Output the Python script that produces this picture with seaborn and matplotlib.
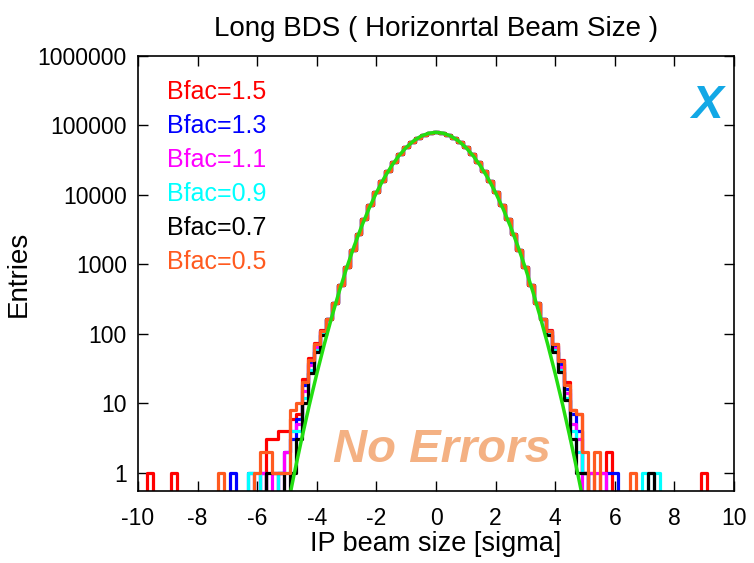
import numpy as np
import pandas as pd
import seaborn as sns
from matplotlib import pyplot as plt

# Histogram bins: 0.2 sigma wide, centred on even tenths
centers = np.round(np.linspace(-10, 10, 101), 1)
edges = list(np.round(np.linspace(-10.1, 10.1, 102), 1))

# Core of the distribution, the same for every Bfac
core_x = np.round(np.linspace(-3.6, 3.6, 37), 1)
core_n = [160, 275, 500, 910, 1610, 2740, 4510, 7140, 10850, 15850, 22250, 30000,
          38900, 48400, 57900, 66500, 73500, 78000, 79600,
          78000, 73500, 66500, 57900, 48400, 38900, 30000, 22250, 15850, 10850,
          7140, 4510, 2740, 1610, 910, 500, 275, 160]

# Tails (bin centre, entries) for each Bfac
tail_15 = [(-9.6, 1), (-8.8, 1), (-5.6, 3), (-5.4, 3), (-5.2, 4), (-5.0, 4), (-4.8, 6), (-4.6, 7),
           (-4.4, 22), (-4.2, 45), (-4.0, 73), (-3.8, 112),
           (3.8, 112), (4.0, 72), (4.2, 42), (4.4, 20), (4.6, 8), (4.8, 7), (5.0, 1), (5.2, 1),
           (5.6, 1), (5.8, 2), (9.0, 1)]
tail_13 = [(-6.8, 1), (-6.2, 1), (-5.8, 1), (-5.2, 1), (-5.0, 2), (-4.8, 3), (-4.6, 6),
           (-4.4, 18), (-4.2, 38), (-4.0, 68), (-3.8, 108),
           (3.8, 108), (4.0, 66), (4.2, 36), (4.4, 16), (4.6, 7), (4.8, 4), (5.0, 1), (5.8, 1), (6.0, 1)]
tail_11 = [(-5.8, 1), (-5.4, 1), (-5.0, 2), (-4.8, 4), (-4.6, 5),
           (-4.4, 15), (-4.2, 35), (-4.0, 64), (-3.8, 104),
           (3.8, 104), (4.0, 63), (4.2, 33), (4.4, 14), (4.6, 5), (4.8, 3), (5.2, 1), (5.4, 1), (5.6, 1)]
tail_09 = [(-6.2, 1), (-6.0, 1), (-5.2, 1), (-5.0, 1), (-4.8, 4), (-4.6, 4),
           (-4.4, 12), (-4.2, 30), (-4.0, 58), (-3.8, 98),
           (3.8, 98), (4.0, 58), (4.2, 30), (4.4, 12), (4.6, 4), (4.8, 2), (5.0, 1), (7.0, 1), (7.4, 1)]
tail_07 = [(-5.6, 1), (-5.4, 1), (-5.2, 1), (-4.8, 1), (-4.6, 3),
           (-4.4, 10), (-4.2, 27), (-4.0, 55), (-3.8, 95),
           (3.8, 95), (4.0, 55), (4.2, 28), (4.4, 11), (4.6, 3), (4.8, 1), (5.0, 1), (7.2, 1)]
tail_05 = [(-7.2, 1), (-6.0, 1), (-5.8, 2), (-5.6, 2), (-5.4, 1), (-5.2, 1), (-5.0, 1), (-4.8, 8),
           (-4.6, 10), (-4.4, 20), (-4.2, 42), (-4.0, 70), (-3.8, 110),
           (3.8, 110), (4.0, 70), (4.2, 40), (4.4, 18), (4.6, 8), (4.8, 7), (5.0, 2), (5.4, 2), (6.6, 1)]

labels = ['Bfac=1.5', 'Bfac=1.3', 'Bfac=1.1', 'Bfac=0.9', 'Bfac=0.7', 'Bfac=0.5']
colors = ['#ff0000', '#0000ff', '#ff00ff', '#00ffff', '#000000', '#ff5a1f']
tails = [tail_15, tail_13, tail_11, tail_09, tail_07, tail_05]

# Gaussian fit (sigma = 1) read at every 0.25
gauss_x = np.round(np.linspace(-5, 5, 41), 2)
gauss_y = [0.294, 0.995, 3.16, 9.45, 26.5, 69.8, 172.8, 401.8, 877.8, 1801, 3471, 6285, 10690,
           17090, 25650, 36170, 47920, 59630, 69720, 76570, 79000,
           76570, 69720, 59630, 47920, 36170, 25650, 17090, 10690, 6285, 3471, 1801, 877.8,
           401.8, 172.8, 69.8, 26.5, 9.45, 3.16, 0.995, 0.294]

yticks = [1, 10, 100, 1000, 10000, 100000, 1000000]
ytick_labels = ['1', '10', '100', '1000', '10000', '100000', '1000000']
xticks = [-10, -8, -6, -4, -2, 0, 2, 4, 6, 8, 10]

sns.set_style('ticks')
plt.rcParams['font.family'] = ['Liberation Sans', 'DejaVu Sans']
plt.rcParams['axes.unicode_minus'] = False
for k in ['text.color', 'axes.labelcolor', 'xtick.color', 'ytick.color', 'axes.edgecolor']:
    plt.rcParams[k] = 'black'

fig = plt.figure(figsize=(7.54, 5.63), dpi=100)
ax = fig.add_axes([0.183, 0.127, 0.7905, 0.774])

pos = {c: i for i, c in enumerate(centers)}
for label, color, tail in zip(labels, colors, tails):
    counts = np.zeros(len(centers))
    for c, n in zip(core_x, core_n):
        counts[pos[c]] = n
    for c, n in tail:
        counts[pos[c]] = n
    df = pd.DataFrame({'x': centers, 'n': counts})
    sns.histplot(data=df, x='x', weights='n', bins=edges, element='step', fill=False,
                 color=color, linewidth=2.3, ax=ax)

sns.lineplot(x=gauss_x, y=gauss_y, color='#22dd11', linewidth=2.5, estimator=None, sort=False, ax=ax)

ax.set_yscale('log')
ax.set_xlim(-10, 10)
ax.set_ylim(0.535, 1e6)
ax.set_yticks(yticks)
ax.set_yticklabels(ytick_labels)
ax.set_xticks(xticks)
ax.minorticks_off()
ax.tick_params(axis='y', direction='in', length=7, width=1, right=True, labelsize=16.5, pad=8)
ax.tick_params(axis='x', direction='in', length=7, width=1, top=True, labelsize=16.5, pad=11)
for s in ax.spines.values():
    s.set_linewidth(1.2)
    s.set_color('black')

ax.set_title('Long BDS ( Horizonrtal Beam Size )', fontsize=20, pad=14)
ax.set_xlabel('IP beam size [sigma]', fontsize=19.5, labelpad=1)
ax.set_ylabel('Entries', fontsize=20, labelpad=4)

for i, (label, color) in enumerate(zip(labels, colors)):
    ax.text(0.0495, 0.9166 - i * 0.0781, label, color=color, fontsize=18,
            transform=ax.transAxes, va='center', ha='left')

ax.text(0.51, 0.095, 'No Errors', color='#f4b183', fontsize=34, fontweight='bold',
        fontstyle='italic', transform=ax.transAxes, va='center', ha='center')
ax.text(0.955, 0.885, 'X', color='#12a8e6', fontsize=34, fontweight='bold',
        fontstyle='italic', transform=ax.transAxes, va='center', ha='center')

plt.savefig('out.png', dpi=100)
